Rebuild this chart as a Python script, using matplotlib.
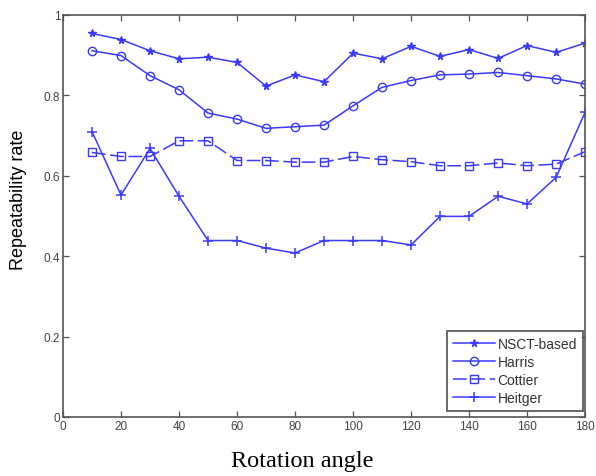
import matplotlib
matplotlib.use("Agg")
import matplotlib.pyplot as plt

# Rotation angles (degrees) and repeatability rates per detector
angles = [10, 20, 30, 40, 50, 60, 70, 80, 90, 100, 110, 120, 130, 140, 150, 160, 170, 180]
nsct = [0.954, 0.939, 0.911, 0.891, 0.895, 0.882, 0.823, 0.851, 0.834, 0.905,
        0.891, 0.922, 0.897, 0.914, 0.892, 0.924, 0.907, 0.930]
harris = [0.911, 0.899, 0.849, 0.814, 0.756, 0.741, 0.718, 0.722, 0.726, 0.774,
          0.820, 0.837, 0.851, 0.853, 0.857, 0.849, 0.841, 0.828]
cottier = [0.658, 0.648, 0.648, 0.687, 0.687, 0.638, 0.638, 0.634, 0.634, 0.648,
           0.640, 0.635, 0.625, 0.625, 0.632, 0.625, 0.629, 0.660]
heitger = [0.710, 0.552, 0.668, 0.549, 0.439, 0.439, 0.420, 0.408, 0.439, 0.439,
           0.439, 0.428, 0.499, 0.499, 0.549, 0.530, 0.596, 0.758]

series_names = ["NSCT-based", "Harris", "Cottier", "Heitger"]
x_ticks = [0, 20, 40, 60, 80, 100, 120, 140, 160, 180]
y_ticks = [0, 0.2, 0.4, 0.6, 0.8, 1]
y_tick_labels = ["0", "0.2", "0.4", "0.6", "0.8", "1"]

blue = "#3a3aff"
sans = ["Liberation Sans", "DejaVu Sans"]
serif = ["Liberation Serif", "DejaVu Serif"]

fig = plt.figure(figsize=(5.96, 4.77), dpi=100)
ax = fig.add_axes([0.1057, 0.1237, 0.876, 0.8428])

ax.plot(angles, nsct, color=blue, lw=1.1, marker="*", ms=5.5, mfc=blue, mec=blue,
        label=series_names[0])
ax.plot(angles, harris, color=blue, lw=1.1, marker="o", ms=6, mfc="none", mec=blue,
        label=series_names[1])
ax.plot(angles, cottier, color=blue, lw=1.1, marker="s", ms=6, mfc="none", mec=blue,
        dashes=(9, 3), label=series_names[2])
ax.plot(angles, heitger, color=blue, lw=1.1, marker="+", ms=7, mew=1.1, mec=blue,
        label=series_names[3])

ax.set_xlim(0, 180)
ax.set_ylim(0, 1)
ax.set_xticks(x_ticks)
ax.set_yticks(y_ticks)
ax.set_yticklabels(y_tick_labels)

spine_color = "#555555"
for s in ax.spines.values():
    s.set_color(spine_color)
    s.set_linewidth(1.2)

ax.tick_params(direction="in", top=True, right=True, length=4, width=0.9,
               color=spine_color, labelcolor="#444444", labelsize=8.5, pad=2)
for lab in ax.get_xticklabels() + ax.get_yticklabels():
    lab.set_family(sans)

ax.set_xlabel("Rotation angle", family=serif, fontsize=17.5, color="black")
ax.xaxis.set_label_coords(0.458, -0.082)
ax.set_ylabel("Repeatability rate", family=sans, fontsize=13, color="black")
ax.yaxis.set_label_coords(-0.068, 0.542)

leg = ax.legend(loc="lower right", bbox_to_anchor=(0.996, 0.015), prop={"family": sans, "size": 10},
                frameon=True, fancybox=False, handlelength=3.0, handletextpad=0.2,
                labelspacing=0.28, borderpad=0.45, borderaxespad=0)
leg.get_frame().set_edgecolor("#333333")
leg.get_frame().set_linewidth(1.3)
for t in leg.get_texts():
    t.set_color("#333333")

fig.savefig("out.png", dpi=100)
